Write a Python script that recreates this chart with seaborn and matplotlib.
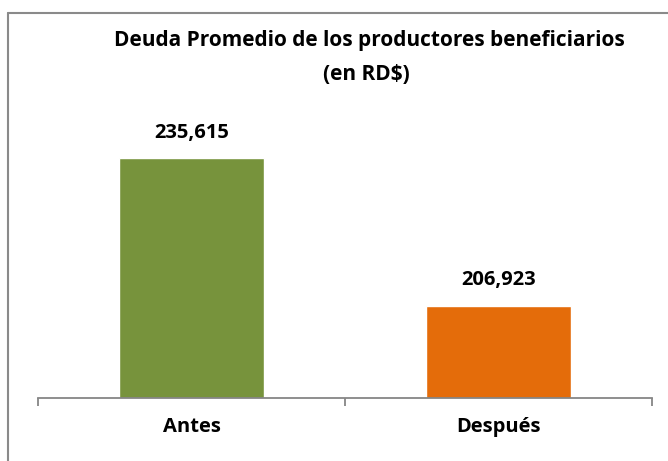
import matplotlib
matplotlib.use("Agg")
import matplotlib.pyplot as plt
import seaborn as sns
import pandas as pd
from matplotlib.lines import Line2D

categories = ["Antes", "Después"]
values = [235615, 206923]
colors = ["#77933C", "#E46C0A"]
title_line1 = "Deuda Promedio de los productores beneficiarios"
title_line2 = "(en RD$)"

sns.set_theme(style="white")
plt.rcParams["font.family"] = ["Open Sans", "DejaVu Sans"]

W, H = 668, 461
fig = plt.figure(figsize=(W / 100, H / 100), dpi=100)
fig.patch.set_facecolor("white")

ax = fig.add_axes([38 / W, (H - 398) / H, 614 / W, 300 / H])

df = pd.DataFrame({"cat": categories, "val": values})
sns.barplot(data=df, x="cat", y="val", hue="cat", palette=colors,
            width=0.47, legend=False, ax=ax, saturation=1)

ax.set_ylim(189000, 189000 + 300 * 194.2)
ax.set_xlim(-0.5, 1.5)
ax.set_xlabel("")
ax.set_ylabel("")
ax.set_yticks([])
for s in ["left", "right", "top"]:
    ax.spines[s].set_visible(False)
ax.spines["bottom"].set_color("#868686")
ax.spines["bottom"].set_linewidth(1.3)

ax.set_xticks([0, 1])
ax.set_xticklabels(categories, fontsize=14.5, fontweight="bold", color="black")
ax.tick_params(axis="x", which="major", length=0, pad=14)
ax.set_xticks([-0.5, 0.5, 1.5], minor=True)
ax.tick_params(axis="x", which="minor", length=6, width=1.3, color="#868686",
               direction="out", bottom=True)

for cont in ax.containers:
    ax.bar_label(cont, labels=[f"{v:,.0f}" for v in cont.datavalues],
                 padding=11, fontsize=14.5, fontweight="bold", color="black")

fig.text(369 / W, 1 - 46 / H, title_line1, ha="center", va="baseline",
         fontsize=15, fontweight="bold", color="black")
fig.text(366 / W, 1 - 80 / H, title_line2, ha="center", va="baseline",
         fontsize=15, fontweight="bold", color="black")

# chart frame (partially visible)
fig.add_artist(Line2D([8 / W, 8 / W], [0, 1 - 13 / H], transform=fig.transFigure,
                      color="#8a8a8a", linewidth=1.5))
fig.add_artist(Line2D([8 / W, 1], [1 - 13 / H, 1 - 13 / H], transform=fig.transFigure,
                      color="#8a8a8a", linewidth=1.5))

fig.savefig("out.png", dpi=100, facecolor="white")
